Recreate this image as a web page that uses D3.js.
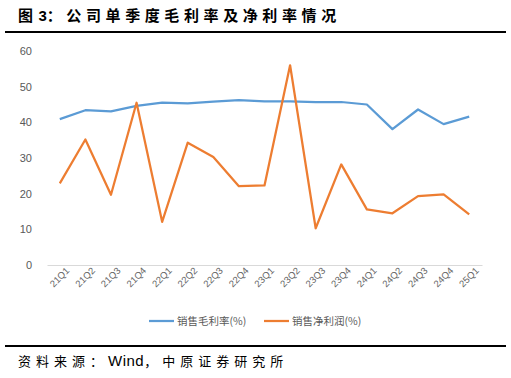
<!DOCTYPE html>
<html>
<head>
<meta charset="utf-8">
<script src="https://cdn.jsdelivr.net/npm/d3@7"></script>
<style>
  body { margin: 0; background: #fff; }
  text { font-family: "Liberation Sans", Arial, "Noto Sans CJK SC", sans-serif; }
</style>
</head>
<body>
<div id="chart"></div>
<script>
// data
let quarters = ["21Q1","21Q2","21Q3","21Q4","22Q1","22Q2","22Q3","22Q4","23Q1","23Q2","23Q3","23Q4","24Q1","24Q2","24Q3","24Q4","25Q1"];
let grossMargin = [40.9, 43.4, 43.1, 44.6, 45.5, 45.3, 45.8, 46.2, 45.9, 45.9, 45.7, 45.7, 45.0, 38.1, 43.6, 39.5, 41.6];
let netMargin = [22.9, 35.2, 19.7, 45.5, 12.1, 34.3, 30.3, 22.1, 22.3, 56.0, 10.3, 28.2, 15.6, 14.5, 19.3, 19.8, 14.2];
let yTicks = [0, 10, 20, 30, 40, 50, 60];
let seriesNames = ["销售毛利率(%)", "销售净利润(%)"];
let colors = ["#5B9BD5", "#ED7D31"];

let W = 511, H = 378;
let margin = {top: 51, right: 29, bottom: 113, left: 47},
    width = W - margin.left - margin.right,
    height = H - margin.top - margin.bottom;

let svg = d3.select("#chart").append("svg")
    .attr("width", W)
    .attr("height", H);

// title and rules
let title = svg.append("text")
    .attr("x", 18).attr("y", 21)
    .attr("font-size", 15).attr("font-weight", "bold")
    .attr("fill", "#000")
    .style("font-family", "'Noto Sans CJK SC', sans-serif");
title.append("tspan").attr("letter-spacing", 1).text("图 ");
title.append("tspan").style("font-family", "'Liberation Sans', Arial, sans-serif").text("3");
title.append("tspan").attr("letter-spacing", 4.6).text("：公司单季度毛利率及净利率情况");

svg.append("line")
    .attr("x1", 5).attr("x2", 506).attr("y1", 32).attr("y2", 32)
    .attr("stroke", "#000").attr("stroke-width", 2);
svg.append("line")
    .attr("x1", 5).attr("x2", 506).attr("y1", 346).attr("y2", 346)
    .attr("stroke", "#000").attr("stroke-width", 2);

let foot = svg.append("text")
    .attr("x", 18).attr("y", 366)
    .attr("font-size", 13).attr("fill", "#000")
    .style("font-family", "'Noto Sans CJK SC', sans-serif");
foot.append("tspan").attr("letter-spacing", 5).text("资料来源：");
foot.append("tspan").attr("font-size", 15).attr("letter-spacing", 0.5)
    .style("font-family", "'Liberation Sans', Arial, sans-serif").text("Wind");
foot.append("tspan").attr("letter-spacing", 5).text("，中原证券研究所");

let g = svg.append("g")
    .attr("transform", "translate(" + margin.left + "," + margin.top + ")");

let x = d3.scaleBand()
    .domain(quarters)
    .range([0, width]);
let y = d3.scaleLinear()
    .domain([0, 60])
    .range([height, 0]);

// y axis labels (no axis line)
let yAxis = g.append("g")
    .call(d3.axisLeft(y).tickValues(yTicks).tickSize(0).tickPadding(15));
yAxis.select(".domain").remove();
yAxis.selectAll("text")
    .attr("font-size", 11)
    .attr("fill", "#595959")
    .style("font-family", "'Liberation Sans', Arial, sans-serif");

// x axis
let xAxis = g.append("g")
    .attr("transform", "translate(0," + height + ")")
    .call(d3.axisBottom(x).tickSize(0).tickPadding(6));
xAxis.select(".domain").attr("stroke", "#d9d9d9");
xAxis.selectAll("text")
    .attr("font-size", 9.5)
    .attr("fill", "#666")
    .attr("text-anchor", "end")
    .attr("dx", "0.3em")
    .attr("dy", "0.6em")
    .attr("transform", "rotate(-45)")
    .style("font-family", "'Liberation Sans', Arial, sans-serif");

let line = d3.line()
    .x(function(d, i) { return x(quarters[i]) + x.bandwidth() / 2; })
    .y(function(d) { return y(d); });

[grossMargin, netMargin].forEach(function(s, i) {
    g.append("path")
        .datum(s)
        .attr("fill", "none")
        .attr("stroke", colors[i])
        .attr("stroke-width", 2.25)
        .attr("stroke-linejoin", "round")
        .attr("d", line);
});

// legend
let legendX = [149, 264];
seriesNames.forEach(function(name, i) {
    let lg = svg.append("g").attr("transform", "translate(" + legendX[i] + ",321)");
    lg.append("line")
        .attr("x1", 0).attr("x2", 25).attr("y1", 0).attr("y2", 0)
        .attr("stroke", colors[i]).attr("stroke-width", 2.25);
    lg.append("text")
        .attr("x", 28).attr("y", 4)
        .attr("font-size", 10.5)
        .attr("fill", "#595959")
        .style("font-family", "'Noto Sans CJK SC', sans-serif")
        .text(name);
});
</script>
</body>
</html>
